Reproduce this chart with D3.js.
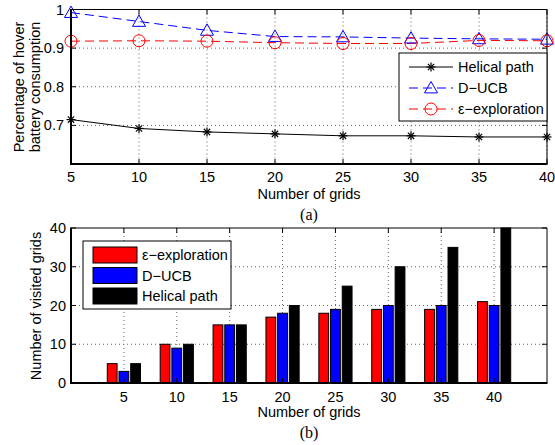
<!DOCTYPE html>
<html><head><meta charset="utf-8">
<script src="https://cdn.jsdelivr.net/npm/d3@7"></script>
<style>body{margin:0;background:#fff}svg{display:block}text{font-family:"Liberation Sans",Arial,sans-serif}</style>
</head><body><svg id="c" width="555" height="445"></svg>
<script>
const grids = [5, 10, 15, 20, 25, 30, 35, 40];
const helicalPct = [0.715, 0.692, 0.683, 0.678, 0.673, 0.673, 0.670, 0.670];
const ducbPct = [0.992, 0.969, 0.946, 0.930, 0.929, 0.926, 0.924, 0.923];
const epsPct = [0.918, 0.919, 0.918, 0.914, 0.912, 0.912, 0.920, 0.919];
const epsVisited = [5, 10, 15, 17, 18, 19, 19, 21];
const ducbVisited = [3, 9, 15, 18, 19, 20, 20, 20];
const helicalVisited = [5, 10, 15, 20, 25, 30, 35, 40];
const yTicksTop = [0.7, 0.8, 0.9, 1];
const yTicksBot = [0, 10, 20, 30, 40];

const FS = 14.5;
const svg = d3.select("#c");
const L = 71, R = 547;

function gridAndTicks(g, x, y, xt, yt, top, bot, ygrid) {
  g.selectAll(".gx").data(xt).join("line").attr("x1", d => x(d)).attr("x2", d => x(d))
    .attr("y1", top).attr("y2", bot).attr("stroke", "#666").attr("stroke-dasharray", "1,3");
  g.selectAll(".gy").data(ygrid).join("line").attr("class","gy").attr("y1", d => y(d)).attr("y2", d => y(d))
    .attr("x1", L).attr("x2", R).attr("stroke", "#666").attr("stroke-dasharray", "1,3");
}
function frame(g, x, y, xt, yt, top, bot) {
  const tl = 5;
  xt.forEach(d => {
    g.append("line").attr("x1", x(d)).attr("x2", x(d)).attr("y1", bot).attr("y2", bot - tl).attr("stroke", "#000");
    g.append("line").attr("x1", x(d)).attr("x2", x(d)).attr("y1", top).attr("y2", top + tl).attr("stroke", "#000");
  });
  yt.forEach(d => {
    g.append("line").attr("x1", L).attr("x2", L + tl).attr("y1", y(d)).attr("y2", y(d)).attr("stroke", "#000");
    g.append("line").attr("x1", R).attr("x2", R - tl).attr("y1", y(d)).attr("y2", y(d)).attr("stroke", "#000");
  });
  g.append("line").attr("x1", L).attr("x2", R).attr("y1", top).attr("y2", top).attr("stroke", "#000");
  g.append("line").attr("x1", R).attr("x2", R).attr("y1", top).attr("y2", bot).attr("stroke", "#000");
  g.append("line").attr("x1", L).attr("x2", L).attr("y1", top - 0.5).attr("y2", bot + 1).attr("stroke", "#000").attr("stroke-width", 2);
  g.append("line").attr("x1", L - 1).attr("x2", R + 0.5).attr("y1", bot).attr("y2", bot).attr("stroke", "#000").attr("stroke-width", 2);
}

// ---------- Top chart ----------
const tTop = 9.5, tBot = 164;
const x1 = d3.scaleLinear().domain([5, 40]).range([L, R]);
const y1 = d3.scaleLinear().domain([0.6, 1.0]).range([tBot, tTop]);
const g1 = svg.append("g");
gridAndTicks(g1, x1, y1, grids, yTicksTop, tTop, tBot, [0.7, 0.8, 0.9]);

const line1 = d3.line().x((d, i) => x1(grids[i])).y(d => y1(d));
function star(g, cx, cy, s) {
  const p = g.append("g").attr("transform", `translate(${cx},${cy})`).attr("stroke", "#000").attr("stroke-width", 1.2);
  p.append("line").attr("x1", -s).attr("x2", s).attr("y1", 0).attr("y2", 0);
  p.append("line").attr("x1", 0).attr("x2", 0).attr("y1", -s).attr("y2", s);
  p.append("line").attr("x1", -s*0.7).attr("x2", s*0.7).attr("y1", -s*0.7).attr("y2", s*0.7);
  p.append("line").attr("x1", -s*0.7).attr("x2", s*0.7).attr("y1", s*0.7).attr("y2", -s*0.7);
}
function tri(g, cx, cy, s) {
  g.append("path").attr("d", `M${cx},${cy - s}L${cx + s},${cy + s*0.75}L${cx - s},${cy + s*0.75}Z`)
    .attr("fill", "none").attr("stroke", "#00f").attr("stroke-width", 1);
}
function circ(g, cx, cy, r) {
  g.append("circle").attr("cx", cx).attr("cy", cy).attr("r", r).attr("fill", "none").attr("stroke", "#f00").attr("stroke-width", 1);
}
g1.append("path").attr("d", line1(helicalPct)).attr("fill", "none").attr("stroke", "#000").attr("stroke-width", 1);
g1.append("path").attr("d", line1(ducbPct)).attr("fill", "none").attr("stroke", "#00f").attr("stroke-width", 1).attr("stroke-dasharray", "9,5");
g1.append("path").attr("d", line1(epsPct)).attr("fill", "none").attr("stroke", "#f00").attr("stroke-width", 1).attr("stroke-dasharray", "9,5");
helicalPct.forEach((d, i) => star(g1, x1(grids[i]), y1(d), 4.5));
ducbPct.forEach((d, i) => tri(g1, x1(grids[i]), y1(d), 6.5));
epsPct.forEach((d, i) => circ(g1, x1(grids[i]), y1(d), 6));
frame(g1, x1, y1, grids, yTicksTop, tTop, tBot);

g1.selectAll(".xl").data(grids).join("text").attr("x", d => x1(d)).attr("y", 182)
  .attr("text-anchor", "middle").attr("font-size", FS).text(d => d);
g1.selectAll(".yl").data(yTicksTop).join("text").attr("x", 64).attr("y", d => y1(d) + 5)
  .attr("text-anchor", "end").attr("font-size", FS).text(d => d);
g1.append("text").attr("x", 309).attr("y", 199).attr("text-anchor", "middle").attr("font-size", FS).text("Number of grids");
g1.append("text").attr("x", 309).attr("y", 220).attr("text-anchor", "middle").attr("font-size", 16)
  .style("font-family", "'Liberation Serif',serif").text("(a)");
g1.append("text").attr("transform", "translate(24,87) rotate(-90)").attr("text-anchor", "middle").attr("font-size", FS).text("Percentage of hover");
g1.append("text").attr("transform", "translate(40,87) rotate(-90)").attr("text-anchor", "middle").attr("font-size", FS).text("battery consumption");

// top legend
const lg1 = g1.append("g");
lg1.append("rect").attr("x", 399).attr("y", 53).attr("width", 148).attr("height", 68).attr("fill", "#fff").attr("stroke", "#000");
const leg1 = [
  {name: "Helical path", color: "#000", dash: null, mk: "star", y: 67},
  {name: "D\u2212UCB", color: "#00f", dash: "9,5", mk: "tri", y: 88},
  {name: "\u03b5\u2212exploration", color: "#f00", dash: "9,5", mk: "circ", y: 109}
];
leg1.forEach(e => {
  const ln = lg1.append("line").attr("x1", 409).attr("x2", 453).attr("y1", e.y).attr("y2", e.y).attr("stroke", e.color);
  if (e.dash) ln.attr("stroke-dasharray", e.dash).attr("stroke-dashoffset", 0);
  if (e.mk === "star") star(lg1, 431, e.y, 4.5);
  if (e.mk === "tri") tri(lg1, 431, e.y, 6.5);
  if (e.mk === "circ") circ(lg1, 431, e.y, 6);
  lg1.append("text").attr("x", 458).attr("y", e.y + 5).attr("font-size", FS).text(e.name);
});

// ---------- Bottom chart ----------
const bTop = 228, bBot = 383;
const x2 = d3.scaleLinear().domain([0, 45]).range([L, R]);
const y2 = d3.scaleLinear().domain([0, 40]).range([bBot, bTop]);
const g2 = svg.append("g");
gridAndTicks(g2, x2, y2, grids, yTicksBot, bTop, bBot, [10, 20, 30]);
const series = [
  {vals: epsVisited, color: "#f00", off: -11.7},
  {vals: ducbVisited, color: "#00f", off: 0},
  {vals: helicalVisited, color: "#000", off: 11.7}
];
const bw = 9.8;
series.forEach(s => {
  g2.selectAll(null).data(s.vals).join("rect")
    .attr("x", (d, i) => x2(grids[i]) + s.off - bw / 2).attr("width", bw)
    .attr("y", d => y2(d)).attr("height", d => bBot - y2(d))
    .attr("fill", s.color).attr("stroke", "#000").attr("stroke-width", 1);
});
frame(g2, x2, y2, grids, yTicksBot, bTop, bBot);
g2.selectAll(".xl").data(grids).join("text").attr("x", d => x2(d)).attr("y", 402)
  .attr("text-anchor", "middle").attr("font-size", FS).text(d => d);
g2.selectAll(".yl").data(yTicksBot).join("text").attr("x", 66).attr("y", d => y2(d) + 5)
  .attr("text-anchor", "end").attr("font-size", FS).text(d => d);
g2.append("text").attr("x", 309).attr("y", 417).attr("text-anchor", "middle").attr("font-size", FS).text("Number of grids");
g2.append("text").attr("x", 309).attr("y", 438).attr("text-anchor", "middle").attr("font-size", 16)
  .style("font-family", "'Liberation Serif',serif").text("(b)");
g2.append("text").attr("transform", "translate(41,306) rotate(-90)").attr("text-anchor", "middle").attr("font-size", FS).text("Number of visited grids");

const lg2 = g2.append("g");
lg2.append("rect").attr("x", 83).attr("y", 241).attr("width", 148).attr("height", 68).attr("fill", "#fff").attr("stroke", "#000");
const leg2 = [
  {name: "\u03b5\u2212exploration", color: "#f00", y: 255},
  {name: "D\u2212UCB", color: "#00f", y: 275.5},
  {name: "Helical path", color: "#000", y: 296}
];
leg2.forEach(e => {
  lg2.append("rect").attr("x", 93).attr("y", e.y - 8).attr("width", 44).attr("height", 16)
    .attr("fill", e.color).attr("stroke", "#000");
  lg2.append("text").attr("x", 142).attr("y", e.y + 5).attr("font-size", FS).text(e.name);
});
</script></body></html>
